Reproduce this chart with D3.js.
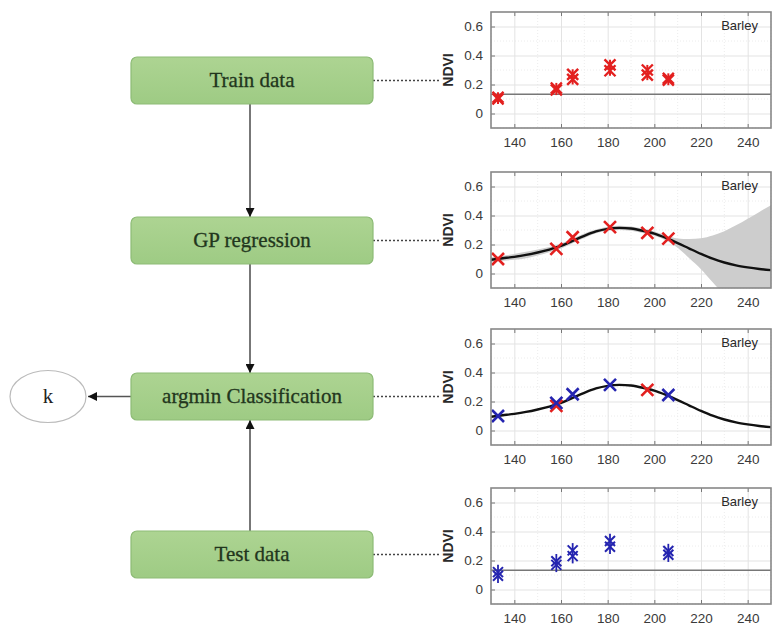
<!DOCTYPE html>
<html>
<head>
<meta charset="utf-8">
<script src="https://cdn.jsdelivr.net/npm/d3@7"></script>
<style>
  body { margin: 0; background: #fff; }
</style>
</head>
<body>
<svg id="chart" width="772" height="627"></svg>
<script>
////////////////////////////////////////////////////////////
// DATA
////////////////////////////////////////////////////////////
var steps = ["Train data", "GP regression", "argmin Classification", "Test data"];
var classLabel = "k";
var cropName = "Barley";
var xTicks = [140, 160, 180, 200, 220, 240];
var yTicks = [0, 0.2, 0.4, 0.6];
var thresholdNdvi = 0.133;

// train samples (red), several per acquisition day
var trainDays = [133, 133, 158, 158, 165, 165, 181, 181, 197, 197, 206, 206];
var trainNdvi = [0.10, 0.112, 0.162, 0.176, 0.235, 0.27, 0.295, 0.335, 0.265, 0.3, 0.23, 0.242];

// test samples (blue)
var testDays = [133, 133, 158, 158, 165, 165, 181, 181, 206, 206];
var testNdvi = [0.095, 0.12, 0.17, 0.195, 0.23, 0.27, 0.295, 0.335, 0.24, 0.265];

// train means shown on the regression panel
var meanDays = [133, 158, 165, 181, 197, 206];
var meanNdvi = [0.10, 0.17, 0.25, 0.32, 0.28, 0.24];

// classification panel: test means (blue) and remaining train means (red)
var blueDays = [133, 158, 165, 181, 206];
var blueNdvi = [0.10, 0.19, 0.25, 0.315, 0.245];
var redDays = [158, 197];
var redNdvi = [0.17, 0.28];

// GP regression curve and confidence band
var gpDays  = [130, 135, 140, 145, 150, 155, 160, 165, 170, 175, 180, 185, 190, 195, 200, 205, 210, 215, 220, 225, 230, 235, 240, 245, 250];
var gpMean  = [0.095, 0.105, 0.115, 0.128, 0.145, 0.165, 0.19, 0.225, 0.26, 0.29, 0.308, 0.315, 0.31, 0.295, 0.275, 0.245, 0.21, 0.172, 0.135, 0.102, 0.076, 0.056, 0.042, 0.031, 0.023];
var gpUpper = [0.112, 0.122, 0.135, 0.15, 0.166, 0.183, 0.207, 0.242, 0.276, 0.303, 0.322, 0.33, 0.325, 0.31, 0.29, 0.262, 0.242, 0.238, 0.243, 0.262, 0.292, 0.332, 0.378, 0.425, 0.47];
var gpLower = [0.078, 0.088, 0.095, 0.106, 0.124, 0.147, 0.173, 0.208, 0.244, 0.277, 0.294, 0.3, 0.295, 0.28, 0.26, 0.228, 0.178, 0.105, 0.03, -0.06, -0.15, -0.25, -0.35, -0.45, -0.55];

////////////////////////////////////////////////////////////
// LAYOUT
////////////////////////////////////////////////////////////
var svg = d3.select("#chart");
var boxLeft = 131, boxRight = 373, boxH = 47;
var boxTops = [57, 217, 373, 531];
var lineX = 250;
var panelLeft = 491, panelRight = 771, panelH = 116;
var panelTops = [12, 172, 329, 488];

var RED = "#e3201f";
var BLUE = "#2424b0";
var FONT = "Liberation Sans, Arial, sans-serif";

var defs = svg.append("defs");
defs.append("marker")
    .attr("id", "arrow")
    .attr("viewBox", "0 0 10 10")
    .attr("refX", 10)
    .attr("refY", 5)
    .attr("markerWidth", 10)
    .attr("markerHeight", 9)
    .attr("markerUnits", "userSpaceOnUse")
    .attr("orient", "auto")
  .append("path")
    .attr("d", "M0,0 L10,5 L0,10 z")
    .attr("fill", "#111");
defs.append("clipPath")
    .attr("id", "plotclip")
  .append("rect")
    .attr("x", 0).attr("y", 0)
    .attr("width", panelRight - panelLeft)
    .attr("height", panelH);
var grad = defs.append("linearGradient")
    .attr("id", "boxfill")
    .attr("x1", 0).attr("y1", 0).attr("x2", 0).attr("y2", 1);
grad.append("stop").attr("offset", "0%").attr("stop-color", "#add492");
grad.append("stop").attr("offset", "100%").attr("stop-color", "#9ecb84");

////////////////////////////////////////////////////////////
// FLOW DIAGRAM
////////////////////////////////////////////////////////////
function connector(x1, y1, x2, y2) {
    svg.append("line")
        .attr("x1", x1).attr("y1", y1)
        .attr("x2", x2).attr("y2", y2)
        .attr("stroke", "#555")
        .attr("stroke-width", 1.6)
        .attr("marker-end", "url(#arrow)");
}
connector(lineX, boxTops[0] + boxH, lineX, boxTops[1]);
connector(lineX, boxTops[1] + boxH, lineX, boxTops[2]);
connector(lineX, boxTops[3], lineX, boxTops[2] + boxH);
connector(boxLeft, boxTops[2] + boxH / 2, 88, boxTops[2] + boxH / 2);

// dotted leaders to the panels
boxTops.forEach(function(t) {
    svg.append("line")
        .attr("x1", boxRight).attr("y1", t + boxH / 2)
        .attr("x2", 441).attr("y2", t + boxH / 2)
        .attr("stroke", "#444")
        .attr("stroke-width", 1.3)
        .attr("stroke-dasharray", "2,2");
});

var boxes = svg.selectAll("g.step")
    .data(steps)
  .enter().append("g")
    .attr("class", "step")
    .attr("transform", function(d, i) { return "translate(" + boxLeft + "," + boxTops[i] + ")"; });
boxes.append("rect")
    .attr("width", boxRight - boxLeft)
    .attr("height", boxH)
    .attr("rx", 6)
    .attr("fill", "url(#boxfill)")
    .attr("stroke", "#8dbb76")
    .attr("stroke-width", 1.2);
boxes.append("text")
    .attr("x", (boxRight - boxLeft) / 2)
    .attr("y", boxH / 2)
    .attr("dy", "0.33em")
    .attr("text-anchor", "middle")
    .attr("font-family", "Liberation Serif, serif")
    .attr("font-size", 21)
    .attr("fill", "#22361d")
    .attr("stroke", "#22361d")
    .attr("stroke-width", 0.3)
    .text(function(d) { return d; });

svg.append("ellipse")
    .attr("cx", 48).attr("cy", boxTops[2] + boxH / 2)
    .attr("rx", 38).attr("ry", 26)
    .attr("fill", "#fff")
    .attr("stroke", "#bbb")
    .attr("stroke-width", 1.2);
svg.append("text")
    .attr("x", 48).attr("y", boxTops[2] + boxH / 2)
    .attr("dy", "0.33em")
    .attr("text-anchor", "middle")
    .attr("font-family", "Liberation Serif, serif")
    .attr("font-size", 21)
    .attr("fill", "#222")
    .text(classLabel);

////////////////////////////////////////////////////////////
// PANELS
////////////////////////////////////////////////////////////
var x = d3.scaleLinear().domain([130, 250]).range([0, panelRight - panelLeft]);
var y = d3.scaleLinear().domain([-0.1, 0.7]).range([panelH, 0]);

function xMarks(g, days, vals, color, size, width) {
    g.selectAll(null)
        .data(days.map(function(d, i) { return [d, vals[i]]; }))
      .enter().append("path")
        .attr("transform", function(d) { return "translate(" + x(d[0]) + "," + y(d[1]) + ")"; })
        .attr("d", "M" + (-size) + "," + (-size) + "L" + size + "," + size + "M" + (-size) + "," + size + "L" + size + "," + (-size))
        .attr("stroke", color)
        .attr("stroke-width", width)
        .attr("fill", "none");
}

// vertical spread of the samples on each day (gives the asterisk look)
function spreadBars(g, days, vals, color, pad, width) {
    var groups = d3.groups(days.map(function(d, i) { return [d, vals[i]]; }), function(d) { return d[0]; });
    g.selectAll(null)
        .data(groups)
      .enter().append("line")
        .attr("x1", function(d) { return x(d[0]); })
        .attr("x2", function(d) { return x(d[0]); })
        .attr("y1", function(d) { return y(d3.max(d[1], function(v) { return v[1]; }) + pad); })
        .attr("y2", function(d) { return y(d3.min(d[1], function(v) { return v[1]; }) - pad); })
        .attr("stroke", color)
        .attr("stroke-width", width);
}

function make_panel(top) {
    var g = svg.append("g").attr("transform", "translate(" + panelLeft + "," + top + ")");
    var w = panelRight - panelLeft;

    // minor grid
    var minorX = [130, 150, 170, 190, 210, 230, 250];
    var minorY = [-0.1, 0.1, 0.3, 0.5];
    g.selectAll(null).data(minorX).enter().append("line")
        .attr("x1", x).attr("x2", x).attr("y1", 0).attr("y2", panelH)
        .attr("stroke", "#ececec").attr("stroke-dasharray", "1,2");
    g.selectAll(null).data(minorY).enter().append("line")
        .attr("y1", y).attr("y2", y).attr("x1", 0).attr("x2", w)
        .attr("stroke", "#ececec").attr("stroke-dasharray", "1,2");
    // major grid
    g.append("g")
        .call(d3.axisBottom(x).tickValues(xTicks).tickSize(panelH).tickFormat(""))
        .call(function(a) { a.select(".domain").remove(); a.selectAll("line").attr("stroke", "#e3e3e3"); });
    g.append("g")
        .call(d3.axisRight(y).tickValues(yTicks).tickSize(w).tickFormat(""))
        .call(function(a) { a.select(".domain").remove(); a.selectAll("line").attr("stroke", "#e3e3e3"); });

    // tick labels
    g.append("g")
        .attr("transform", "translate(0," + panelH + ")")
        .call(d3.axisBottom(x).tickValues(xTicks).tickSize(-4).tickPadding(9))
        .call(function(a) {
            a.select(".domain").remove();
            a.selectAll("line").attr("stroke", "#777");
            a.selectAll("text").attr("font-family", FONT)
                .attr("font-size", 13.5).attr("fill", "#3a3a3a");
        });
    g.append("g")
        .call(d3.axisLeft(y).tickValues(yTicks).tickSize(-4).tickPadding(8)
              .tickFormat(function(d) { return d === 0 ? "0" : d3.format(".1f")(d); }))
        .call(function(a) {
            a.select(".domain").remove();
            a.selectAll("line").attr("stroke", "#777");
            a.selectAll("text").attr("font-family", FONT)
                .attr("font-size", 13.5).attr("fill", "#3a3a3a");
        });
    g.append("g")
        .call(d3.axisBottom(x).tickValues(xTicks).tickSize(4).tickFormat(""))
        .call(function(a) { a.select(".domain").remove(); a.selectAll("line").attr("stroke", "#777"); });

    g.append("text")
        .attr("transform", "translate(-38," + y(0.3) + ") rotate(-90)")
        .attr("text-anchor", "middle")
        .attr("font-family", FONT)
        .attr("font-size", 14)
        .attr("font-weight", "bold")
        .attr("fill", "#2a2a2a")
        .text("NDVI");

    g.append("text")
        .attr("x", w - 13)
        .attr("y", 18)
        .attr("text-anchor", "end")
        .attr("font-family", FONT)
        .attr("font-size", 13)
        .attr("fill", "#2a2a2a")
        .text(cropName);

    var plot = g.append("g").attr("clip-path", "url(#plotclip)");
    g.append("rect")
        .attr("width", w).attr("height", panelH)
        .attr("fill", "none")
        .attr("stroke", "#888")
        .attr("stroke-width", 1.6);
    return plot;
}

var gpPoints = gpDays.map(function(d, i) { return {day: d, mean: gpMean[i], up: gpUpper[i], lo: gpLower[i]}; });
var meanLine = d3.line().curve(d3.curveMonotoneX)
    .x(function(d) { return x(d.day); })
    .y(function(d) { return y(d.mean); });
var band = d3.area().curve(d3.curveMonotoneX)
    .x(function(d) { return x(d.day); })
    .y0(function(d) { return y(d.lo); })
    .y1(function(d) { return y(d.up); });

function threshold(p) {
    p.append("line")
        .attr("x1", 0).attr("x2", panelRight - panelLeft)
        .attr("y1", y(thresholdNdvi)).attr("y2", y(thresholdNdvi))
        .attr("stroke", "#777").attr("stroke-width", 1.4);
}

// panel 1: train data
var p1 = make_panel(panelTops[0]);
threshold(p1);
spreadBars(p1, trainDays, trainNdvi, RED, 0.035, 2);
xMarks(p1, trainDays, trainNdvi, RED, 5.5, 2.4);

// panel 2: GP regression
var p2 = make_panel(panelTops[1]);
p2.append("path").datum(gpPoints).attr("d", band).attr("fill", "#cdcdcd");
p2.append("path").datum(gpPoints).attr("d", meanLine)
    .attr("fill", "none").attr("stroke", "#111").attr("stroke-width", 2.4);
xMarks(p2, meanDays, meanNdvi, RED, 6, 2.6);

// panel 3: classification
var p3 = make_panel(panelTops[2]);
p3.append("path").datum(gpPoints).attr("d", meanLine)
    .attr("fill", "none").attr("stroke", "#111").attr("stroke-width", 2.4);
xMarks(p3, redDays, redNdvi, RED, 6, 2.6);
xMarks(p3, blueDays, blueNdvi, BLUE, 6, 2.6);

// panel 4: test data
var p4 = make_panel(panelTops[3]);
threshold(p4);
spreadBars(p4, testDays, testNdvi, BLUE, 0.05, 1.8);
xMarks(p4, testDays, testNdvi, BLUE, 5, 2);
</script>
</body>
</html>
